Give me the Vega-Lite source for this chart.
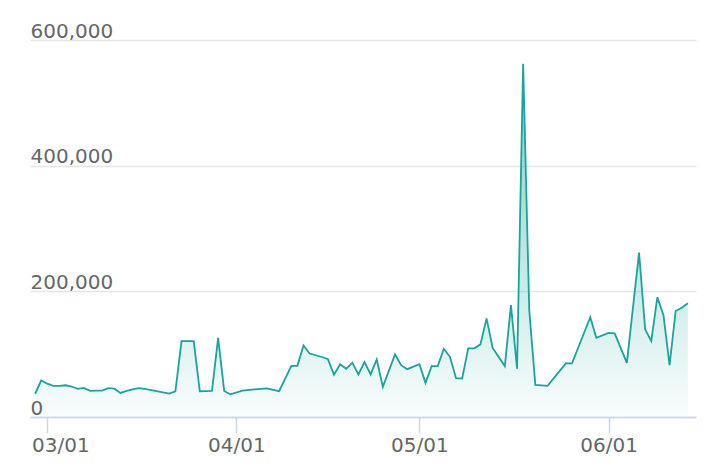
{
  "$schema": "https://vega.github.io/schema/vega-lite/v6.json",
  "width": 666,
  "height": 377,
  "autosize": {"type": "none"},
  "padding": {"left": 30, "top": 40, "right": 22, "bottom": 59},
  "background": "white",
  "config": {"view": {"stroke": null}, "font": "DejaVu Sans"},
  "data": {"values": [
    {"date": "2021-02-27", "value": 37000},
    {"date": "2021-02-28", "value": 58000},
    {"date": "2021-03-01", "value": 53000},
    {"date": "2021-03-02", "value": 49500},
    {"date": "2021-03-03", "value": 49500},
    {"date": "2021-03-04", "value": 50500},
    {"date": "2021-03-05", "value": 48500},
    {"date": "2021-03-06", "value": 44700},
    {"date": "2021-03-07", "value": 46300},
    {"date": "2021-03-08", "value": 41500},
    {"date": "2021-03-09", "value": 42000},
    {"date": "2021-03-10", "value": 42000},
    {"date": "2021-03-11", "value": 45800},
    {"date": "2021-03-12", "value": 45000},
    {"date": "2021-03-13", "value": 38300},
    {"date": "2021-03-14", "value": 41500},
    {"date": "2021-03-15", "value": 44000},
    {"date": "2021-03-16", "value": 45800},
    {"date": "2021-03-17", "value": 44700},
    {"date": "2021-03-21", "value": 37300},
    {"date": "2021-03-22", "value": 41000},
    {"date": "2021-03-23", "value": 120800},
    {"date": "2021-03-25", "value": 120800},
    {"date": "2021-03-26", "value": 41000},
    {"date": "2021-03-28", "value": 41500},
    {"date": "2021-03-29", "value": 126000},
    {"date": "2021-03-30", "value": 41500},
    {"date": "2021-03-31", "value": 36200},
    {"date": "2021-04-02", "value": 42000},
    {"date": "2021-04-04", "value": 44000},
    {"date": "2021-04-06", "value": 45500},
    {"date": "2021-04-08", "value": 41000},
    {"date": "2021-04-10", "value": 81400},
    {"date": "2021-04-11", "value": 81400},
    {"date": "2021-04-12", "value": 114000},
    {"date": "2021-04-13", "value": 101000},
    {"date": "2021-04-15", "value": 95500},
    {"date": "2021-04-16", "value": 92000},
    {"date": "2021-04-17", "value": 67500},
    {"date": "2021-04-18", "value": 84000},
    {"date": "2021-04-19", "value": 76700},
    {"date": "2021-04-20", "value": 86500},
    {"date": "2021-04-21", "value": 67700},
    {"date": "2021-04-22", "value": 87300},
    {"date": "2021-04-23", "value": 67700},
    {"date": "2021-04-24", "value": 91600},
    {"date": "2021-04-25", "value": 47900},
    {"date": "2021-04-27", "value": 99600},
    {"date": "2021-04-28", "value": 82500},
    {"date": "2021-04-29", "value": 76100},
    {"date": "2021-05-01", "value": 84100},
    {"date": "2021-05-02", "value": 54300},
    {"date": "2021-05-03", "value": 80900},
    {"date": "2021-05-04", "value": 80900},
    {"date": "2021-05-05", "value": 108500},
    {"date": "2021-05-06", "value": 95800},
    {"date": "2021-05-07", "value": 61800},
    {"date": "2021-05-08", "value": 61300},
    {"date": "2021-05-09", "value": 109300},
    {"date": "2021-05-10", "value": 109300},
    {"date": "2021-05-11", "value": 115600},
    {"date": "2021-05-12", "value": 157000},
    {"date": "2021-05-13", "value": 110000},
    {"date": "2021-05-15", "value": 81000},
    {"date": "2021-05-16", "value": 178000},
    {"date": "2021-05-17", "value": 77000},
    {"date": "2021-05-18", "value": 562000},
    {"date": "2021-05-19", "value": 170000},
    {"date": "2021-05-20", "value": 51000},
    {"date": "2021-05-22", "value": 49500},
    {"date": "2021-05-25", "value": 85200},
    {"date": "2021-05-26", "value": 85200},
    {"date": "2021-05-29", "value": 158700},
    {"date": "2021-05-30", "value": 126000},
    {"date": "2021-06-01", "value": 134000},
    {"date": "2021-06-02", "value": 133000},
    {"date": "2021-06-04", "value": 86000},
    {"date": "2021-06-06", "value": 261800},
    {"date": "2021-06-07", "value": 139500},
    {"date": "2021-06-08", "value": 120800},
    {"date": "2021-06-09", "value": 190600},
    {"date": "2021-06-10", "value": 162000},
    {"date": "2021-06-11", "value": 82500},
    {"date": "2021-06-12", "value": 168700},
    {"date": "2021-06-13", "value": 174000},
    {"date": "2021-06-14", "value": 181000}
  ]},
  "mark": {
    "type": "area",
    "color": {
      "gradient": "linear",
      "x1": 1, "y1": 1, "x2": 1, "y2": 0,
      "stops": [
        {"offset": 0, "color": "rgba(22,166,155,0.03)"},
        {"offset": 1, "color": "rgba(22,166,155,0.8)"}
      ]
    },
    "line": {"color": "#16a69b", "strokeWidth": 1.8}
  },
  "encoding": {
    "x": {
      "field": "date",
      "type": "temporal",
      "title": null,
      "scale": {
        "type": "utc",
        "domain": [
          {"year": 2021, "month": 2, "date": 26, "hours": 4, "utc": true},
          {"year": 2021, "month": 6, "date": 15, "hours": 8, "utc": true}
        ]
      },
      "axis": {
        "values": [
          {"year": 2021, "month": 3, "date": 1, "utc": true},
          {"year": 2021, "month": 4, "date": 1, "utc": true},
          {"year": 2021, "month": 5, "date": 1, "utc": true},
          {"year": 2021, "month": 6, "date": 1, "utc": true}
        ],
        "labelExpr": "utcFormat(datum.value, '%m/%d')",
        "grid": false,
        "domainColor": "#ccd6eb",
        "domainWidth": 1.5,
        "tickColor": "#ccd6eb",
        "tickWidth": 1.5,
        "tickSize": 16,
        "labelPadding": 2,
        "labelFontSize": 20,
        "labelColor": "#666666",
        "labelFont": "DejaVu Sans",
        "labelFlush": false,
        "labelOffset": {"condition": {"test": "datum.value < 1614600000000", "value": 13}, "value": 0}
      }
    },
    "y": {
      "field": "value",
      "type": "quantitative",
      "title": null,
      "scale": {"domain": [0, 600000], "nice": false},
      "axis": {
        "values": [0, 200000, 400000, 600000],
        "format": ",d",
        "domain": false,
        "ticks": false,
        "gridColor": "#e6e6e6",
        "gridWidth": 1.5,
        "labelAlign": "left",
        "labelBaseline": "alphabetic",
        "labelPadding": 0,
        "labelOffset": -3,
        "labelFontSize": 20,
        "labelColor": "#666666",
        "labelFont": "DejaVu Sans",
        "labelFlush": false
      }
    }
  }
}
